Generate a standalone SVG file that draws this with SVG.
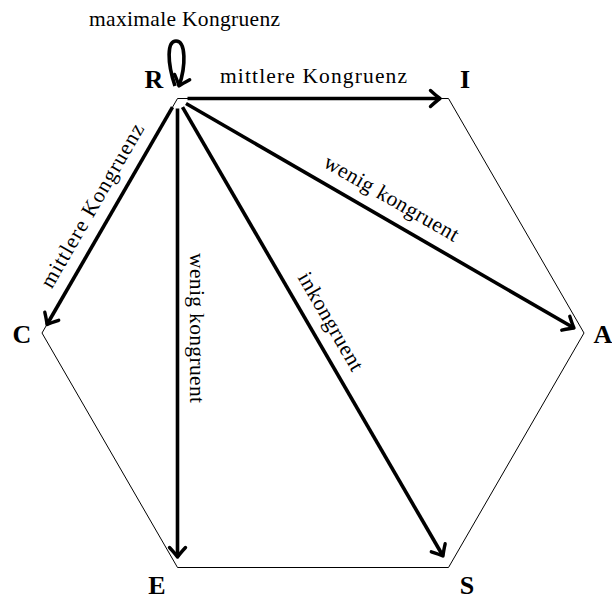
<svg xmlns="http://www.w3.org/2000/svg" width="612" height="601" viewBox="0 0 612 601">
<style>
.lbl{font-family:"Liberation Serif","DejaVu Serif",serif;font-size:21.5px;fill:#000}
.node{font-family:"Liberation Serif","DejaVu Serif",serif;font-size:26px;font-weight:bold;fill:#000;text-anchor:middle}
.edge{fill:none;stroke:#000;stroke-width:3.6;marker-end:url(#arr)}
.hex{fill:none;stroke:#000;stroke-width:1}
</style>
<defs>
<marker id="arr" markerUnits="userSpaceOnUse" viewBox="-12 -10 14 20" refX="0" refY="0" markerWidth="14" markerHeight="20" orient="auto" overflow="visible">
<path d="M -9.5 -8 Q -3 -2 0 0 Q -3 2 -9.5 8" fill="none" stroke="#000" stroke-width="3.4" stroke-linecap="round" stroke-linejoin="round"/>
</marker>
</defs>
<g id="hexagon">
<polygon class="hex" points="177.5,98.5 448.5,98.5 584,333 448.5,567.5 177.5,567.5 42,333"/>
</g>
<g id="connectors">
<path class="edge" d="M 175 86 C 167 62, 167 41, 176 41 C 186 41, 186 66, 179 86"/>
<line class="edge" x1="187.5" y1="98.5" x2="440" y2="98.5"/>
<line class="edge" x1="172.5" y1="107.2" x2="47" y2="324.5"/>
<line class="edge" x1="186" y1="103.5" x2="574" y2="328"/>
<line class="edge" x1="177.5" y1="108.5" x2="177.5" y2="557"/>
<line class="edge" x1="182.5" y1="107.2" x2="443" y2="556"/>
</g>
<g id="edge-labels">
<text class="lbl" x="184.5" y="26" text-anchor="middle" textLength="191">maximale Kongruenz</text>
<text class="lbl" x="313.5" y="83" text-anchor="middle" textLength="187">mittlere Kongruenz</text>
<text class="lbl" transform="translate(93,206) rotate(-60)" x="0" y="6" text-anchor="middle" textLength="186">mittlere Kongruenz</text>
<text class="lbl" transform="translate(391,199) rotate(30)" x="0" y="6" text-anchor="middle" textLength="152">wenig kongruent</text>
<text class="lbl" transform="translate(196,328) rotate(90)" x="0" y="6" text-anchor="middle" textLength="150">wenig kongruent</text>
<text class="lbl" transform="translate(330,322) rotate(60)" x="0" y="6" text-anchor="middle" textLength="110">inkongruent</text>
</g>
<g id="node-R"><text class="node" x="154" y="88">R</text></g>
<g id="node-I"><text class="node" x="465" y="88">I</text></g>
<g id="node-A"><text class="node" x="603" y="343">A</text></g>
<g id="node-S"><text class="node" x="467" y="594">S</text></g>
<g id="node-E"><text class="node" x="157" y="594">E</text></g>
<g id="node-C"><text class="node" x="22" y="343">C</text></g>
</svg>
